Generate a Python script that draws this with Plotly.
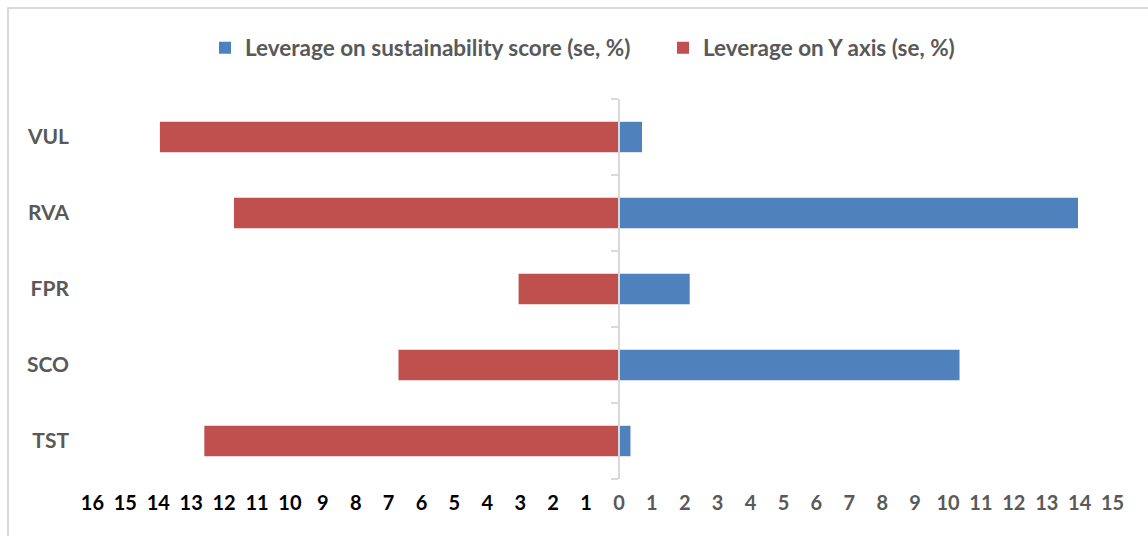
import plotly.graph_objects as go

categories = ["VUL", "RVA", "FPR", "SCO", "TST"]
sustainability_se = [0.7, 13.95, 2.15, 10.35, 0.35]
y_axis_se = [13.95, 11.7, 3.05, 6.7, 12.6]
tick_values = list(range(-16, 16))
tick_labels = [str(abs(v)) for v in tick_values]

BLUE = "#4F81BD"
RED = "#C0504D"
GRAY = "#595959"
FONT = "Lato"

W, H = 1148, 536
L, R, T, B = 76, 19, 99, 57
xr = [-16.5, 15.5]

fig = go.Figure()
fig.add_trace(go.Bar(
    y=categories, x=sustainability_se, orientation="h",
    name="Leverage on sustainability score (se, %)",
    marker=dict(color=BLUE, line=dict(width=0)), width=0.4,
))
fig.add_trace(go.Bar(
    y=categories, x=[-v for v in y_axis_se], orientation="h",
    name="Leverage on Y axis (se, %)",
    marker=dict(color=RED, line=dict(width=0)), width=0.4,
))

ticktext = [
    (f"<span style='color:#000000'>{t}</span>" if v < 0 else t)
    for v, t in zip(tick_values, tick_labels)
]

pw = W - L - R
ph = H - T - B
zero_pos = (0 - xr[0]) / (xr[1] - xr[0])

fig.update_layout(
    width=W, height=H,
    margin=dict(l=L, r=R, t=T, b=B),
    paper_bgcolor="white", plot_bgcolor="white",
    barmode="overlay",
    font=dict(family=FONT, color=GRAY),
    showlegend=True,
    legend=dict(
        orientation="h", x=(205 - L) / pw, xanchor="left", y=1 + (T - 48) / ph, yanchor="middle",
        font=dict(family=FONT, size=22.5, color=GRAY, weight="bold"),
        bgcolor="rgba(0,0,0,0)",
        traceorder="normal", itemwidth=30, entrywidth=413, entrywidthmode="pixels",
    ),
    xaxis=dict(
        range=xr, tickmode="array", tickvals=tick_values, ticktext=ticktext,
        showgrid=False, zeroline=False, showline=False, ticks="",
        tickfont=dict(family=FONT, size=20, color=GRAY, weight="bold"),
        ticklabelstandoff=10,
    ),
    yaxis=dict(
        type="category", categoryorder="array", categoryarray=categories,
        range=[4.5, -0.5], showgrid=False, zeroline=False, showline=False, ticks="",
        tickfont=dict(family=FONT, size=21, color=GRAY, weight="bold"),
        ticklabelstandoff=6,
    ),
    yaxis2=dict(
        overlaying="y", anchor="free", position=zero_pos, side="left",
        range=[4.5, -0.5], tickmode="array", tickvals=[-0.5, 0.5, 1.5, 2.5, 3.5, 4.5],
        showticklabels=False, showgrid=False, zeroline=False,
        showline=True, linecolor="#D9D9D9", linewidth=2,
        ticks="outside", ticklen=7, tickcolor="#D9D9D9", tickwidth=2,
        layer="above traces",
    ),
    shapes=[dict(
        type="rect", xref="paper", yref="paper",
        x0=(8 - L) / pw, x1=(W + 20 - L) / pw,
        y0=-(B + 20) / ph, y1=1 + (T - 8) / ph,
        line=dict(color="#D9D9D9", width=2), fillcolor="rgba(0,0,0,0)", layer="below",
    )],
)

fig.add_trace(go.Scatter(x=[None], y=[None], yaxis="y2", showlegend=False, hoverinfo="skip"))

fig.write_html(
    "out.html",
    config={"displayModeBar": False},
    post_script="document.body.style.margin='0';document.body.style.overflow='hidden';",
)
